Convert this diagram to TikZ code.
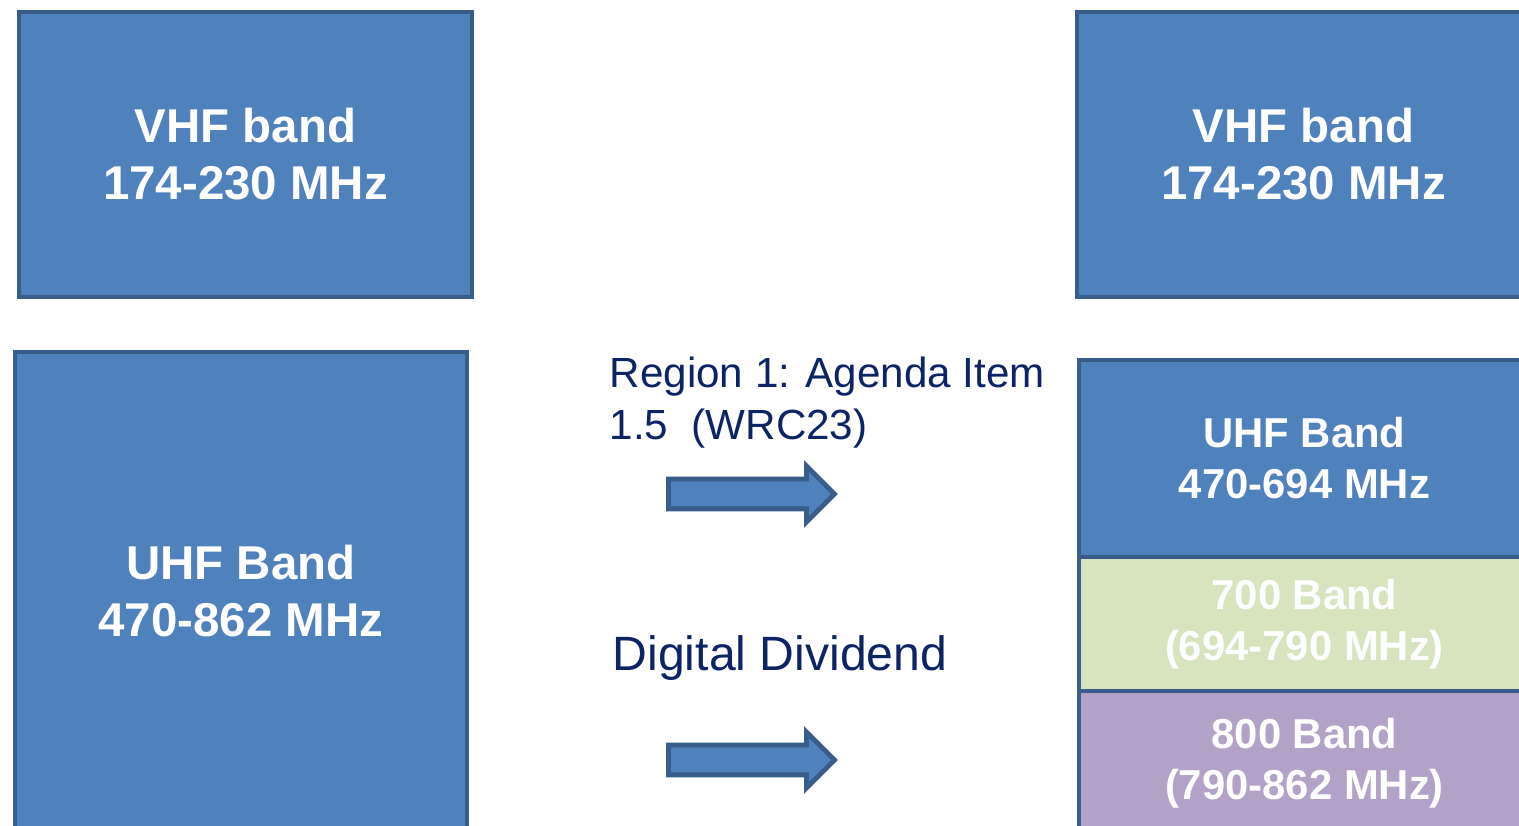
\documentclass[tikz,border=0pt]{standalone}
\usepackage{fontspec}
\setmainfont{Liberation Sans}
\usepackage{xcolor}
\usetikzlibrary{positioning,shapes.arrows}
\definecolor{bandblue}{RGB}{79,129,189}
\definecolor{bandedge}{RGB}{56,93,138}
\definecolor{bandgreen}{RGB}{215,228,189}
\definecolor{bandpurple}{RGB}{179,162,199}
\definecolor{labelnavy}{RGB}{12,36,102}

\begin{document}
\begin{tikzpicture}[
        band/.style={draw=bandedge, line width=1.4pt, fill=bandblue, text=white,
            align=center, inner sep=0pt, font=\bfseries},
        bigtext/.style={font=\fontsize{13.5}{16.2}\selectfont\bfseries},
        smalltext/.style={font=\fontsize{11.9}{14.5}\selectfont\bfseries},
        blockarrow/.style={single arrow, draw=bandedge, line width=1.4pt, fill=bandblue,
            minimum height=1.66cm, minimum width=0.55cm, single arrow head extend=0.13cm,
            single arrow tip angle=90, inner xsep=0pt, inner ysep=0.125cm}
    ]
    \clip (0, 0) rectangle (15.19, 8.26);
    % old plan
    \node[band, bigtext, minimum width=4.53cm, minimum height=2.85cm] (vhfOld) at (2.455, 6.715) {VHF band\\174-230 MHz};
    \node[band, bigtext, minimum width=4.52cm, minimum height=4.78cm] (uhfOld) at (2.41, 2.35) {UHF Band\\470-862 MHz};
    % new plan
    \node[band, bigtext, minimum width=4.53cm, minimum height=2.85cm] (vhfNew) at (13.035, 6.715) {VHF band\\174-230 MHz};
    \node[band, smalltext, minimum width=4.51cm, minimum height=1.97cm] (uhfNew) at (13.045, 3.675) {UHF Band\\470-694 MHz};
    \node[band, smalltext, fill=bandgreen, minimum width=4.51cm, minimum height=1.34cm, below=-1.4pt of uhfNew] (band700) {700 Band\\(694-790 MHz)};
    \node[band, smalltext, fill=bandpurple, minimum width=4.51cm, minimum height=1.45cm, below=-1.4pt of band700] (band800) {800 Band\\(790-862 MHz)};
    % arrows and notes
    \node[blockarrow] (arrowWrc) at (7.44, 3.32) {};
    \node[blockarrow] (arrowDd) at (7.44, 0.66) {};
    \node[anchor=base west, align=left, text=labelnavy, inner sep=0pt,
        font=\fontsize{12}{14.8}\selectfont] (noteWrc) at (6.09, 3.86) {Region 1: Agenda Item\\1.5~~(WRC23)};
    \node[anchor=base west, text=labelnavy, inner sep=0pt,
        font=\fontsize{13.7}{16.4}\selectfont] (noteDd) at (6.12, 1.55) {Digital Dividend};
\end{tikzpicture}
\end{document}
